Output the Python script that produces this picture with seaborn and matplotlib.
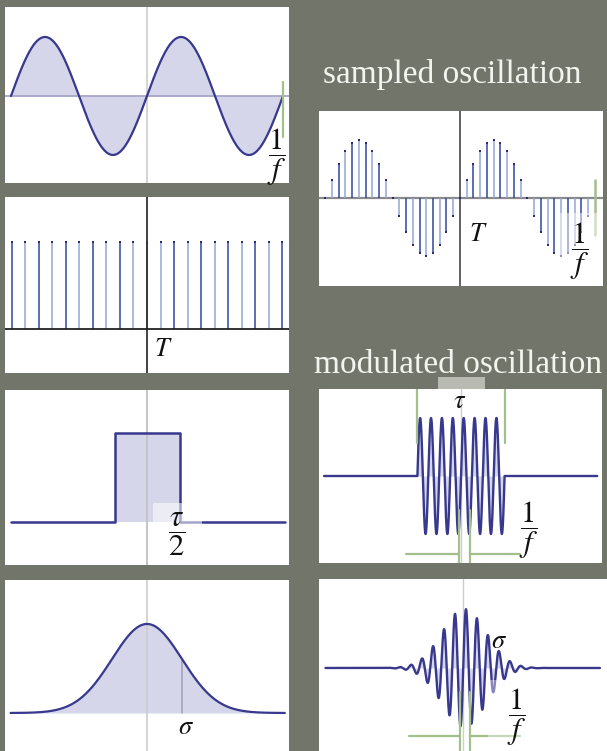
import numpy as np
import pandas as pd
import matplotlib
matplotlib.use("Agg")
import matplotlib.pyplot as plt
import seaborn as sns
from matplotlib.patches import Rectangle

sns.set_theme(style="white")
plt.rcParams['font.family'] = ['Liberation Serif', 'DejaVu Serif']
plt.rcParams['mathtext.fontset'] = 'stix'

# ---- signal parameters -------------------------------------------------
SINE_PERIODS = 2            # periods shown in the pure oscillation
COMB_TEETH = np.arange(-10, 11)          # Dirac comb positions (units of T)
COMB_HEIGHT = 1.0
RECT_HALF_WIDTH = 0.5       # tau / 2 in units of tau
GAUSS_SIGMA = 1.0
SAMPLES_PER_PERIOD = 20
SAMPLE_INDEX = np.arange(-20, 20)
BURST_PERIODS = 8           # carrier periods inside the rectangular window
PACKET_SIGMA = 2.0          # envelope width in carrier periods
PACKET_CENTER = 0.1
CARRIER_PHASE = 0.27

TITLES = ["sampled oscillation", "modulated oscillation"]

# ---- style ---------------------------------------------------------------
W, H = 607, 751
BG = '#72766a'
LINE = '#38388e'
FILL = '#d5d6ea'
STEM_DARK = '#3246a0'
STEM_LIGHT = '#93a5d6'
DOT = '#2a2a7a'
GREEN = '#a2bf8c'
CENTER_GREY = '#cdcdcd'
TEXT = '#f4f4ee'
INV_F = r'$\dfrac{1}{f}$'
FRAC_SIZE = 22

fig = plt.figure(figsize=(W / 100, H / 100), dpi=100, facecolor=BG)


def panel(x0, y0, x1, y1, xlim, ylim):
    ax = fig.add_axes([x0 / W, 1 - y1 / H, (x1 - x0) / W, (y1 - y0) / H])
    ax.set_facecolor('white')
    ax.set_xlim(*xlim)
    ax.set_ylim(*ylim)
    ax.set_xticks([])
    ax.set_yticks([])
    for s in ax.spines.values():
        s.set_visible(False)
    return ax


def curve(ax, x, y, lw=1.6, fill=True, color=LINE, z=3):
    if fill:
        ax.fill_between(x, 0, y, color=FILL, lw=0, zorder=1)
    sns.lineplot(x=x, y=y, ax=ax, color=color, lw=lw, sort=False,
                 estimator=None, zorder=z)


def stems(ax, n, v):
    cols = [STEM_DARK if k % 2 == 0 else STEM_LIGHT for k in n]
    ax.vlines(n, 0, v, colors=cols, lw=1.1, zorder=2)
    sns.scatterplot(x=n, y=v, ax=ax, color=DOT, marker='s', s=4,
                    linewidth=0, zorder=4)


def label(ax, x, y, s, size=FRAC_SIZE, **kw):
    kw.setdefault('ha', 'center')
    kw.setdefault('va', 'center')
    ax.text(x, y, s, fontsize=size, color='#111111', zorder=6, **kw)


# ---- left column ---------------------------------------------------------
# pure oscillation
ax = panel(5, 7, 289, 183, (-1.044, 1.044), (-1.475, 1.508))
t = np.linspace(-SINE_PERIODS / 2, SINE_PERIODS / 2, 600)
ax.axvline(0, color=CENTER_GREY, lw=1.2, zorder=0)
ax.axhline(0, color='#a6a6c8', lw=1.3, zorder=2)
curve(ax, t, np.sin(2 * np.pi * t))
ax.plot([1, 1], [0.237, -0.695], color=GREEN, lw=1.6, zorder=5)
label(ax, 0.95, -1.04, INV_F)

# Dirac comb
ax = panel(5, 197, 289, 373, (-10.48, 10.48), (-0.506, 1.517))
stems(ax, COMB_TEETH, np.full(COMB_TEETH.shape, COMB_HEIGHT))
ax.axvline(0, color='#333333', lw=1.3, zorder=3)
ax.axhline(0, color='#222222', lw=1.3, zorder=3)
label(ax, 0.55, -0.24, r'$T$', size=19, ha='left')

# rectangular pulse
ax = panel(5, 390, 289, 565, (-2.19, 2.18), (-0.483, 1.483))
rx = np.array([-2.1, -RECT_HALF_WIDTH, -RECT_HALF_WIDTH, RECT_HALF_WIDTH,
               RECT_HALF_WIDTH, 2.115])
ry = np.array([0, 0, 1, 1, 0, 0])
ax.fill_between([-RECT_HALF_WIDTH, RECT_HALF_WIDTH], 0, 1, color=FILL, lw=0, zorder=1)
ax.axvline(0, color='#c4c4c4', lw=1.4, zorder=2)
curve(ax, rx, ry, lw=1.8, fill=False)
ax.add_patch(Rectangle((0.085, -0.483), 0.755, 0.696, facecolor='white',
                       alpha=0.55, lw=0, zorder=5))
label(ax, 0.45, -0.14, r'$\dfrac{\tau}{2}$')

# Gaussian
ax = panel(5, 580, 289, 751, (-4.06, 4.06), (-0.427, 1.494))
g = np.linspace(-3.9, 3.94, 600)
ax.axvline(0, color=CENTER_GREY, lw=1.2, zorder=2)
curve(ax, g, np.exp(-g ** 2 / (2 * GAUSS_SIGMA ** 2)))
ax.plot([GAUSS_SIGMA] * 2, [0, np.exp(-0.5)], color='#9d9db4', lw=1.1, zorder=2)
label(ax, 1.11, -0.05, r'$\sigma$', size=19, va='top')

# ---- right column --------------------------------------------------------
fig.text(323 / W, 1 - 83 / H, TITLES[0], fontsize=24, color=TEXT,
         va='baseline', ha='left', family='Liberation Serif')
fig.text(314 / W, 1 - 373 / H, TITLES[1], fontsize=24, color=TEXT,
         va='baseline', ha='left', family='Liberation Serif')

# sampled oscillation
ax = panel(319, 111, 603, 286, (-20.9, 21.2), (-1.517, 1.5))
vals = np.sin(2 * np.pi * SAMPLE_INDEX / SAMPLES_PER_PERIOD)
ax.axhline(0, color='#8a8a8a', lw=1.6, zorder=1)
ax.axvline(0, color='#555555', lw=1.3, zorder=3)
stems(ax, SAMPLE_INDEX, vals)
ax.plot([20, 20], [0.31, -0.64], color=GREEN, lw=1.8, zorder=3)
ax.add_patch(Rectangle((14.1, -1.41), 6.2, 1.15, facecolor='white',
                       alpha=0.5, lw=0, zorder=5))
label(ax, 1.3, -0.64, r'$T$', size=19, ha='left')
label(ax, 17.8, -0.91, INV_F)

# rectangular burst
fig.add_artist(Rectangle((438 / W, 1 - 389 / H), 47 / W, 12 / H,
                         facecolor='#b9bbb2', lw=0, transform=fig.transFigure))
ax = panel(319, 389, 602, 563, (-13.03, 12.94), (-1.5, 1.5))
half = BURST_PERIODS / 2
bt = np.concatenate([np.linspace(-12.57, -half, 50),
                     np.linspace(-half, half, 1600),
                     np.linspace(half, 12.5, 50)])
by = np.where(np.abs(bt) <= half, np.sin(2 * np.pi * bt), 0.0)
ax.axvline(0, color=CENTER_GREY, lw=1.0, zorder=0)
curve(ax, bt, by, lw=1.7)
for xv in (-half, half):
    ax.plot([xv, xv], [0.57, 1.5], color=GREEN, lw=1.6, zorder=5)
for xv in (-0.2, 0.8):
    ax.plot([xv, xv], [-0.59, -1.5], color=GREEN, lw=1.6, zorder=5)
ax.plot([-5.05, -0.2], [-1.345, -1.345], color=GREEN, lw=1.6, zorder=5)
ax.plot([0.8, 5.4], [-1.345, -1.345], color=GREEN, lw=1.6, zorder=5)
label(ax, -0.09, 1.28, r'$\tau$', size=19)
label(ax, 6.2, -0.93, INV_F)

# Gaussian wave packet
ax = panel(319, 579, 607, 751, (-13.09, 13.09), (-1.407, 1.508))
pt = np.linspace(-12.5, 12.45, 2400)
py = (np.exp(-(pt - PACKET_CENTER) ** 2 / (2 * PACKET_SIGMA ** 2))
      * np.cos(2 * np.pi * (pt - CARRIER_PHASE)))
ax.axvline(0, color=CENTER_GREY, lw=1.0, zorder=0)
curve(ax, pt, py, lw=1.7)
for xv in (-0.27, 0.68):
    ax.plot([xv, xv], [-0.41, -1.41], color=GREEN, lw=1.6, zorder=5)
ax.plot([-4.9, -0.27], [-1.15, -1.15], color=GREEN, lw=1.6, zorder=5)
ax.plot([0.68, 5.2], [-1.15, -1.15], color=GREEN, lw=1.6, zorder=5)
ax.add_patch(Rectangle((2.3, -1.407), 3.6, 1.2, facecolor='white',
                       alpha=0.4, lw=0, zorder=5))
label(ax, 3.27, 0.44, r'$\sigma$', size=19)
label(ax, 4.9, -0.84, INV_F)

fig.savefig('out.png', dpi=100, facecolor=BG)
